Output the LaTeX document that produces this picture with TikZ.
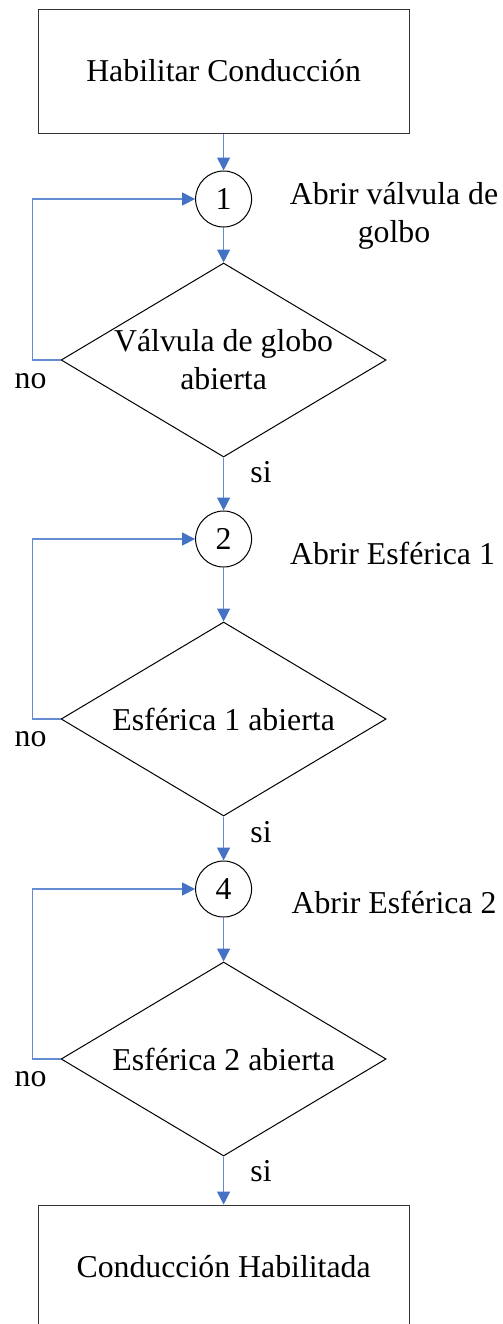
\documentclass[tikz,border=0pt]{standalone}
\usepackage{fontspec}
\setmainfont{Liberation Serif}
\usetikzlibrary{arrows.meta,shapes.geometric}
\definecolor{flowblue}{RGB}{68,114,196}
\definecolor{lineblue}{RGB}{100,140,210}
\tikzset{
  txt/.style={font=\fontsize{15.9}{19}\selectfont},
  procbox/.style={draw=black!80, line width=0.5pt, minimum width=185.5pt, minimum height=62pt, inner sep=0pt, txt},
  stepcircle/.style={circle, draw=black, line width=0.5pt, minimum size=28pt, inner sep=0pt, txt},
  decision/.style={diamond, draw=black, line width=0.5pt, aspect=1.675, minimum width=162.5pt, minimum height=97pt, inner sep=0pt, align=center, txt},
  flow/.style={draw=lineblue, line width=0.6pt, -{Triangle[length=6.5pt,width=6.5pt,color=flowblue]}},
  lbl/.style={anchor=base, inner sep=0pt, txt},
}
\begin{document}
\begin{tikzpicture}[x=0.5pt,y=-0.5pt]
\clip (0,0) rectangle (503,1324);
\fill[white] (0,0) rectangle (503,1324);
% nodes
\node[procbox] (start) at (223.6,71) {Habilitar Conducción};
\node[stepcircle] (c1) at (223.6,199) {1};
\node[decision] (d1) at (223.6,360) {Válvula de globo\\abierta};
\node[stepcircle] (c2) at (223.6,539) {2};
\node[decision] (d2) at (223.6,719) {Esférica 1 abierta};
\node[stepcircle] (c4) at (223.6,889) {4};
\node[decision] (d3) at (223.6,1059) {Esférica 2 abierta};
\node[procbox] (end) at (223.6,1267) {Conducción Habilitada};
% side texts
\node[txt, align=center, inner sep=0pt, anchor=base] (t1) at (394,242) {Abrir válvula de\\golbo};
\node[lbl] (t2) at (392.5,564) {Abrir Esférica 1};
\node[lbl] (t3) at (394,913) {Abrir Esférica 2};
\node[lbl] (si1) at (261,482) {si};
\node[lbl] (si2) at (261,842) {si};
\node[lbl] (si3) at (261,1181) {si};
\node[lbl] (no1) at (30.5,388) {no};
\node[lbl] (no2) at (30.5,746) {no};
\node[lbl] (no3) at (30.5,1086) {no};
% connectors
\draw[flow] (start.south) -- (c1.north);
\draw[flow] (c1.south) -- (d1.north);
\draw[flow] (d1.south) -- (c2.north);
\draw[flow] (c2.south) -- (d2.north);
\draw[flow] (d2.south) -- (c4.north);
\draw[flow] (c4.south) -- (d3.north);
\draw[flow] (d3.south) -- (end.north);
\draw[flow] (d1.west) -- ++(-28,0) |- (c1.west);
\draw[flow] (d2.west) -- ++(-28,0) |- (c2.west);
\draw[flow] (d3.west) -- ++(-28,0) |- (c4.west);
\end{tikzpicture}
\end{document}
